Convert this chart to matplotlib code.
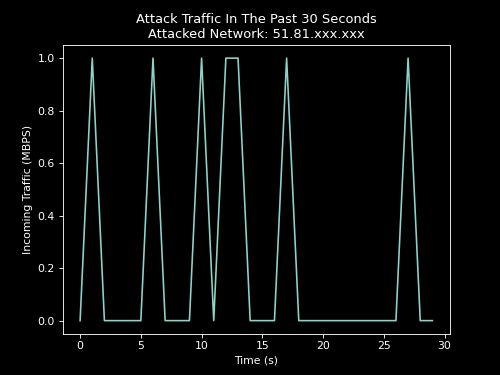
import matplotlib
matplotlib.use('Agg')
import matplotlib.pyplot as plt

# --- data ---
seconds = list(range(30))
traffic = [0, 1, 0, 0, 0, 0, 1, 0, 0, 0,
           1, 0, 1, 1, 0, 0, 0, 1, 0, 0,
           0, 0, 0, 0, 0, 0, 0, 1, 0, 0]
network = '51.81.xxx.xxx'

plt.style.use('dark_background')
fig, ax = plt.subplots(figsize=(6.4, 4.8), dpi=78.125)
ax.plot(seconds, traffic)
ax.set_title('Attack Traffic In The Past 30 Seconds\nAttacked Network: ' + network)
ax.set_xlabel('Time (s)')
ax.set_ylabel('Incoming Traffic (MBPS)')
fig.savefig('out.png')
